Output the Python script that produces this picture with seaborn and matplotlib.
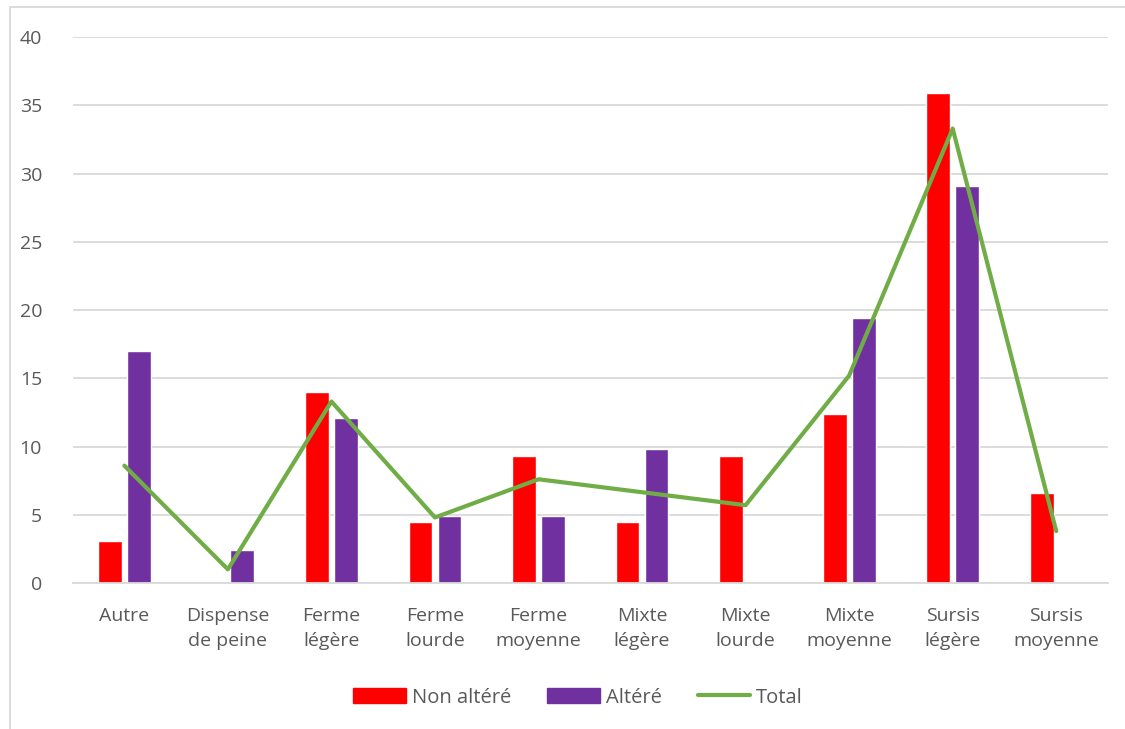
import numpy as np
import pandas as pd
import seaborn as sns
import matplotlib.pyplot as plt
from matplotlib.patches import Patch, Rectangle
from matplotlib.lines import Line2D

categories = ["Autre", "Dispense\nde peine", "Ferme\nlégère", "Ferme\nlourde", "Ferme\nmoyenne",
              "Mixte\nlégère", "Mixte\nlourde", "Mixte\nmoyenne", "Sursis\nlégère", "Sursis\nmoyenne"]
non_altere = [3.1, 0, 14.0, 4.5, 9.3, 4.5, 9.3, 12.4, 35.9, 6.6]
altere = [17.0, 2.4, 12.1, 4.9, 4.9, 9.8, 0, 19.4, 29.1, 0]
total = [8.6, 1.0, 13.3, 4.8, 7.6, 6.65, 5.7, 15.2, 33.3, 3.8]

sns.set_style("white")
plt.rcParams['font.family'] = ['Open Sans', 'DejaVu Sans']

df = pd.DataFrame({
    "cat": categories * 2,
    "val": non_altere + altere,
    "serie": ["Non altéré"] * len(categories) + ["Altéré"] * len(categories),
})

fig = plt.figure(figsize=(11.25, 7.29), dpi=100)
ax = fig.add_axes([0.0645, 0.2003, 0.9204, 0.7487])

colors = {"Non altéré": "#FF0000", "Altéré": "#7030A0"}
sns.barplot(data=df, x="cat", y="val", hue="serie", palette=colors, width=0.56, gap=0.18,
            saturation=1, legend=False, ax=ax, zorder=2)
sns.lineplot(x=np.arange(len(categories)), y=total, color="#70AD47", linewidth=3, ax=ax, zorder=3)

ax.set_ylim(0, 40)
ax.set_xlim(-0.5, len(categories) - 0.5)
ax.set_yticks(range(0, 41, 5))
ax.yaxis.grid(True, color="#D9D9D9", linewidth=1.3)
ax.set_axisbelow(True)
for s in ["top", "right", "left"]:
    ax.spines[s].set_visible(False)
ax.spines["bottom"].set_color("#D9D9D9")
ax.spines["bottom"].set_linewidth(1.3)
ax.tick_params(axis="both", length=0, labelsize=14, colors="#595959")
ax.set_xlabel("")
ax.set_ylabel("")
ax.set_xticks(range(len(categories)))
ax.set_xticklabels(categories, va="top", linespacing=1.55)
ax.tick_params(axis="x", pad=17)
ax.tick_params(axis="y", pad=22)

handles = [Patch(color="#FF0000"), Patch(color="#7030A0"),
           Line2D([0], [0], color="#70AD47", linewidth=3)]
fig.legend(handles, ["Non altéré", "Altéré", "Total"], loc="center", bbox_to_anchor=(0.514, 0.043),
           ncol=3, frameon=False, fontsize=14.5, labelcolor="#595959", handlelength=2.6,
           handleheight=0.75, columnspacing=1.8, handletextpad=0.3)

fig.patches.append(Rectangle((0.009, -0.01), 1.2, 1.0, transform=fig.transFigure,
                             fill=False, edgecolor="#D9D9D9", linewidth=1.3))

fig.savefig("out.png", dpi=100)
